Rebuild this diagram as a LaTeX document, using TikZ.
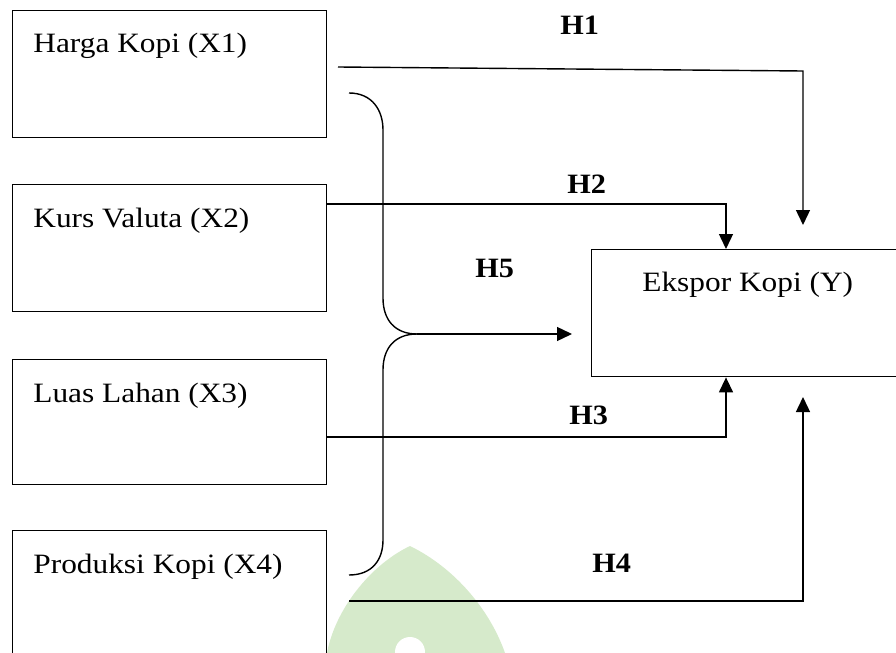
\documentclass[tikz,border=0pt]{standalone}
\usepackage{fontspec}
\setmainfont{Liberation Serif}
\usetikzlibrary{arrows.meta}
\definecolor{wm}{RGB}{214,234,203}
\begin{document}
\begin{tikzpicture}[x=0.5pt,y=-0.5pt,
 box/.style={draw, line width=0.7pt, rectangle, anchor=north west, inner sep=0pt},
 txt/.style={anchor=base west, inner sep=0pt, font=\fontsize{14}{17}\selectfont},
 hlab/.style={anchor=base west, inner sep=0pt, font=\fontsize{14}{17}\selectfont\bfseries},
 conn/.style={line width=0.7pt},
 arr/.style={conn, -{Triangle[length=7.5pt,width=7pt]}}]
\useasboundingbox (0,0) rectangle (896,653);
\clip (0,0) rectangle (896,653);
% watermark
\fill[wm] (327,653) .. controls (335,610) and (370,565) .. (410,546)
  .. controls (455,568) and (490,610) .. (505,653) -- cycle;
\fill[white] (410,652) circle[radius=7.5pt];
% boxes
\node[box, minimum width=157pt, minimum height=63.5pt] (x1) at (12,10) {};
\node[box, minimum width=157pt, minimum height=63.5pt] (x2) at (12,184) {};
\node[box, minimum width=157pt, minimum height=62.5pt] (x3) at (12,359) {};
\node[box, minimum width=157pt, minimum height=70pt] (x4) at (12,530) {};
\node[box, minimum width=160pt, minimum height=63.5pt] (y) at (591,249) {};
% texts
\node[txt] (t1) at (33,53) {\scalebox{1.12}[1]{Harga Kopi (X1)}};
\node[txt] (t2) at (33,227) {\scalebox{1.12}[1]{Kurs Valuta (X2)}};
\node[txt] (t3) at (33,402) {\scalebox{1.12}[1]{Luas Lahan (X3)}};
\node[txt] (t4) at (33,573) {\scalebox{1.12}[1]{Produksi Kopi (X4)}};
\node[txt] (ty) at (642,291) {\scalebox{1.12}[1]{Ekspor Kopi (Y)}};
% labels
\node[hlab] (l1) at (560,34) {\scalebox{1.08}[1]{H1}};
\node[hlab] (l2) at (567,193) {\scalebox{1.08}[1]{H2}};
\node[hlab] (l5) at (475,277) {\scalebox{1.08}[1]{H5}};
\node[hlab] (l3) at (569,424) {\scalebox{1.08}[1]{H3}};
\node[hlab] (l4) at (592,572) {\scalebox{1.08}[1]{H4}};
% coordinates
\coordinate (h1a) at (338,67);
\coordinate (h1b) at (803,71);
\coordinate (h1e) at (803,225);
\coordinate (h4a) at (349,601);
\coordinate (h4b) at (803,601);
\coordinate (h4e) at (803,397);
\coordinate (b1) at (349,93);
\coordinate (b2) at (349,575);
\coordinate (bm) at (417,334);
\coordinate (h5e) at (572,334);
% connectors
\draw[arr] (h1a) -- (h1b) -- (h1e);
\draw[arr] ([yshift=-10pt]x2.north east) -| ([xshift=67.5pt]y.north west);
\draw[arr] ([yshift=-39pt]x3.north east) -| ([xshift=67.5pt]y.south west);
\draw[arr] (h4a) -- (h4b) -- (h4e);
\draw[conn] (b1) .. controls (372,93) and (383,110) .. (383,130) -- (383,298)
  .. controls (383,320) and (395,334) .. (bm);
\draw[conn] (bm) .. controls (395,334) and (383,348) .. (383,370) -- (383,540)
  .. controls (383,560) and (372,575) .. (b2);
\draw[arr] (bm) -- (h5e);
\end{tikzpicture}
\end{document}
